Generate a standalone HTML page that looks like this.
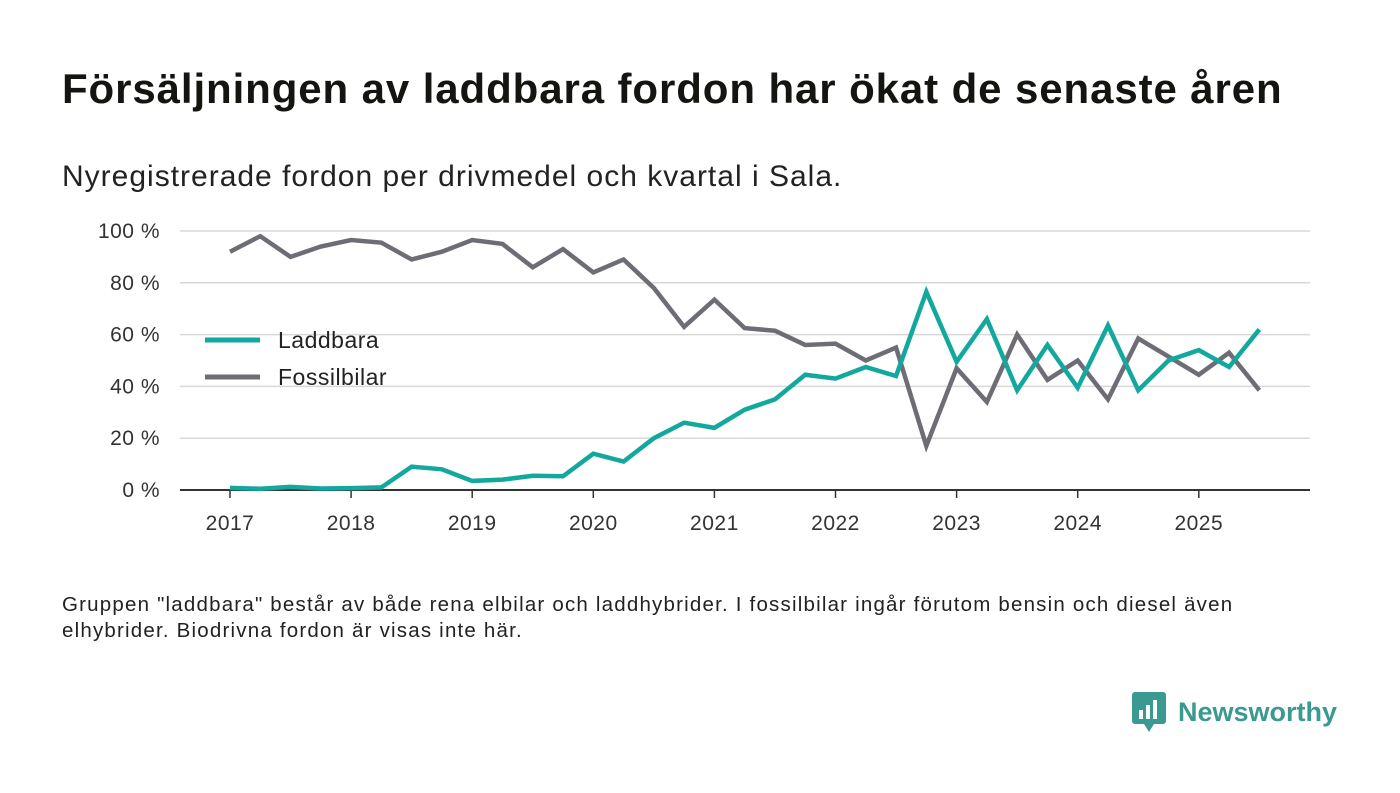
<!DOCTYPE html>
<html><head><meta charset="utf-8"><style>
body{margin:0;background:#fff;font-family:"Liberation Sans","DejaVu Sans",sans-serif;}
#wrap{position:relative;width:1400px;height:793px;overflow:hidden;}
h1{position:absolute;left:62px;top:65px;margin:0;font-size:42px;font-weight:bold;color:#141410;letter-spacing:0.9px;}
.sub{position:absolute;left:62px;top:160px;font-size:30px;color:#222;letter-spacing:1px;}
.note{position:absolute;left:62px;top:592px;font-size:20.5px;line-height:26px;color:#222;width:1215px;letter-spacing:1.2px;}
.logo{position:absolute;left:1132px;top:692px;display:flex;align-items:center;font-size:27px;font-weight:bold;color:#3a9a92;}
</style></head><body>
<div id="wrap">
<h1>Försäljningen av laddbara fordon har ökat de senaste åren</h1>
<div class="sub">Nyregistrerade fordon per drivmedel och kvartal i Sala.</div>
<svg id="chart" width="1400" height="793" style="position:absolute;left:0;top:0"></svg>
<div class="note">Gruppen "laddbara" består av både rena elbilar och laddhybrider. I fossilbilar ingår förutom bensin och diesel även elhybrider. Biodrivna fordon är visas inte här.</div>
<div class="logo">
<svg width="34" height="40" viewBox="0 0 34 40" style="margin-right:12px"><rect x="0" y="0" width="34" height="32" rx="3" fill="#3a9a92"/><path d="M12 32 L17 40 L22 32Z" fill="#3a9a92"/><rect x="7" y="18" width="4" height="9" fill="#fff"/><rect x="14" y="13" width="4" height="14" fill="#fff"/><rect x="21" y="8" width="4" height="19" fill="#fff"/></svg>Newsworthy</div>
</div>
<script>
const years=[2017,2018,2019,2020,2021,2022,2023,2024,2025];
const yTicks=[0,20,40,60,80,100];
const laddbara=[0.8,0.5,1.2,0.6,0.7,1,9,8,3.5,4,5.5,5.3,14,11,20,26,24,31,35,44.5,43,47.5,44,76.5,49.5,66,38.5,56,39.5,63.5,38.5,50,54,47.5,62];
const fossil=[92,98,90,94,96.5,95.5,89,92,96.5,95,86,93,84,89,78,63,73.5,62.5,61.5,56,56.5,50,55,17,47,34,60,42.5,50,35,58.5,51.5,44.5,53,38.5];
const svg=document.getElementById('chart');const NS='http://www.w3.org/2000/svg';
const x0=230,yearW=121.1,y0=490,pxPer=2.59;
const xs=i=>x0+i*yearW/4;const ys=v=>y0-v*pxPer;
function mk(t,a){const e=document.createElementNS(NS,t);for(const k in a)e.setAttribute(k,a[k]);svg.appendChild(e);return e;}
yTicks.forEach(t=>{
 if(t>0){const l=mk('line',{x1:180,x2:1310,y1:ys(t),y2:ys(t),stroke:'#d8d8d8','stroke-width':1.5});
 
 }
 const tx=mk('text',{x:160,y:ys(t)+7,'text-anchor':'end','font-size':21,'letter-spacing':0.5,fill:'#333','font-family':'Liberation Sans, sans-serif'});tx.textContent=t+' %';
 
 
});
const ax=mk('line',{x1:180,x2:1310,y1:y0,y2:y0,stroke:'#333','stroke-width':2});


years.forEach((yr,i)=>{const x=x0+i*yearW;
 const tk=mk('line',{x1:x,x2:x,y1:y0,y2:y0+8,stroke:'#333','stroke-width':1.5});
 
 
 const t=mk('text',{x:x,y:y0+40,'text-anchor':'middle','font-size':21,'letter-spacing':0.5,fill:'#333','font-family':'Liberation Sans, sans-serif'});t.textContent=yr;
 
 
});
function line(d,c,n){const p=mk('polyline',{points:d.map((v,i)=>xs(i)+','+ys(v)).join(' '),fill:'none',stroke:c,'stroke-width':4.5,'stroke-linejoin':'miter'});
 
 }
line(fossil,'#6e6d75','line-fossilbilar');
line(laddbara,'#13a89e','line-laddbara');
[['Laddbara','#13a89e',340],['Fossilbilar','#6e6d75',377]].forEach(([n,c,y])=>{
 const l=mk('line',{x1:205,x2:260,y1:y,y2:y,stroke:c,'stroke-width':5});
 
 
 const t=mk('text',{x:278,y:y+8,'font-size':23,'letter-spacing':0.5,fill:'#222','font-family':'Liberation Sans, sans-serif'});t.textContent=n;
 
 
});
</script>
</body></html>
